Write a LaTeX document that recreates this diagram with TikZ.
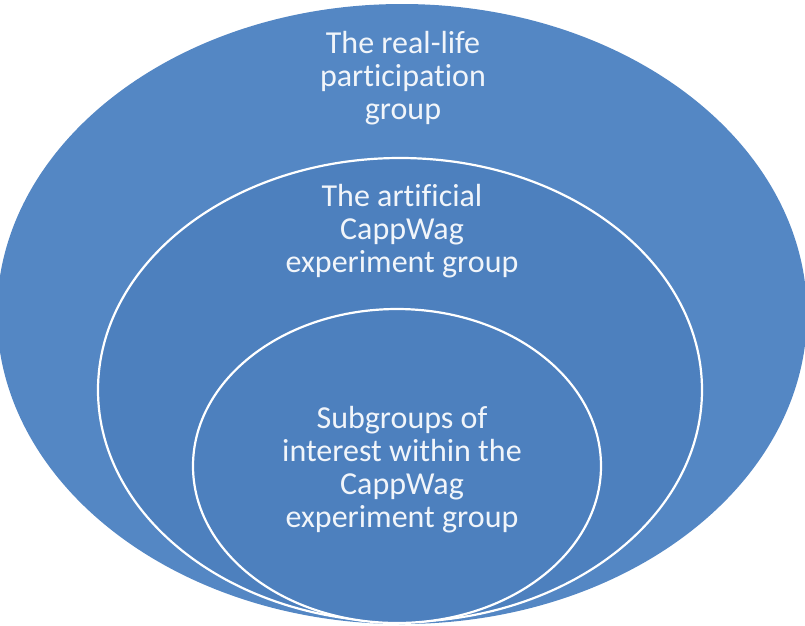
\documentclass[tikz,border=0pt]{standalone}
\usepackage{fontspec}
\setmainfont[Ligatures=NoCommon]{Carlito}
\usetikzlibrary{shapes.geometric}
\definecolor{grpblue}{RGB}{84,135,196}
\definecolor{subblue}{RGB}{77,128,190}

\begin{document}
\begin{tikzpicture}[
  x=1pt, y=-1pt,
  grp/.style={ellipse, draw=white, line width=2.2pt, fill=subblue,
              inner sep=0pt},
  outergrp/.style={grp, draw=none, fill=grpblue},
  txt/.style={font=\fontsize{32}{33}\selectfont, text=white!92!subblue,
              align=center, inner sep=0pt}
]
\useasboundingbox (0,0) rectangle (805,625);

% Groups (all resting on the bottom edge)
\node[outergrp, minimum width=810, minimum height=620] (outer)  at (402,314) {};
\node[grp, minimum width=604, minimum height=464]      (middle) at (400,390) {};
\node[grp, minimum width=408, minimum height=314]      (inner)  at (397,466) {};

% Labels
\node[txt] (outer_txt)  at (403,78)  {The real-life\\participation\\group};
\node[txt] (middle_txt) at (402,231) {The artificial\\CappWag\\experiment group};
\node[txt] (inner_txt)  at (402,470) {Subgroups of\\interest within the\\CappWag\\experiment group};

\end{tikzpicture}
\end{document}
